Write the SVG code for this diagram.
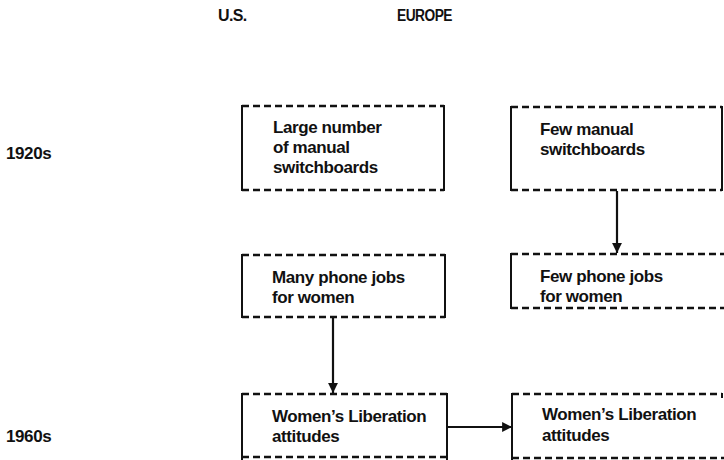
<svg xmlns="http://www.w3.org/2000/svg" width="724" height="460" viewBox="0 0 724 460">
<defs>
<style>
.t{font-family:"Liberation Sans",Arial,sans-serif;font-weight:bold;font-size:17px;fill:#111;letter-spacing:-0.4px}
.h{font-family:"Liberation Sans",Arial,sans-serif;font-weight:bold;font-size:16px;fill:#111;letter-spacing:-0.6px}
.y{font-family:"Liberation Sans",Arial,sans-serif;font-weight:bold;font-size:17px;fill:#111;letter-spacing:-0.4px}
.dash{fill:none;stroke:#111;stroke-width:2.4;stroke-dasharray:7 4}
.side{fill:none;stroke:#111;stroke-width:2}
.c{fill:none;stroke:#111;stroke-width:2.2}
</style>
<marker id="ah" viewBox="0 0 10 10" refX="10" refY="5" markerWidth="4.5" markerHeight="4.5" orient="auto" markerUnits="strokeWidth">
<path d="M0,0 L10,5 L0,10 z" fill="#111"/>
</marker>
</defs>
<rect width="724" height="460" fill="#fff"/>
<text class="h" x="218" y="21">U.S.</text>
<text class="h" x="397" y="21" textLength="55" lengthAdjust="spacingAndGlyphs">EUROPE</text>
<text class="y" x="6" y="159">1920s</text>
<text class="y" x="6" y="442">1960s</text>

<g id="us1">
<path class="dash" d="M242,106 H444 M242,190 H444"/>
<path class="side" d="M242,105 V191 M444,105 V191"/>
<text class="t" x="273" y="133">Large number</text>
<text class="t" x="273" y="153">of manual</text>
<text class="t" x="273" y="173">switchboards</text>
</g>
<g id="eu1">
<path class="dash" d="M511,107 H722 M511,190 H722"/>
<path class="side" d="M511,106 V191 M722,106 V191"/>
<text class="t" x="540" y="135">Few manual</text>
<text class="t" x="540" y="155">switchboards</text>
</g>
<g id="us2">
<path class="dash" d="M242,255 H445 M242,317 H445"/>
<path class="side" d="M242,254 V318 M445,254 V318"/>
<text class="t" x="272" y="283">Many phone jobs</text>
<text class="t" x="272" y="303">for women</text>
</g>
<g id="eu2">
<path class="dash" d="M511,254 H724 M511,308 H724"/>
<path class="side" d="M511,253 V309"/>
<text class="t" x="540" y="282">Few phone jobs</text>
<text class="t" x="540" y="302">for women</text>
</g>
<g id="us3">
<path class="dash" d="M242,394 H447 M242,457 H447"/>
<path class="side" d="M242,393 V460 M447,393 V460"/>
<text class="t" x="272" y="422">Women’s Liberation</text>
<text class="t" x="272" y="442">attitudes</text>
</g>
<g id="eu3">
<path class="dash" d="M512,394 H722 M512,458 H724"/>
<path class="side" d="M512,393 V460 M722,393 V398"/>
<text class="t" x="542" y="420">Women’s Liberation</text>
<text class="t" x="542" y="441">attitudes</text>
</g>
<g id="connectors">
<path class="c" d="M333,318 V393" marker-end="url(#ah)"/>
<path class="c" d="M617,191 V253" marker-end="url(#ah)"/>
<path class="c" d="M448,427 H512" marker-end="url(#ah)"/>
</g>
</svg>
